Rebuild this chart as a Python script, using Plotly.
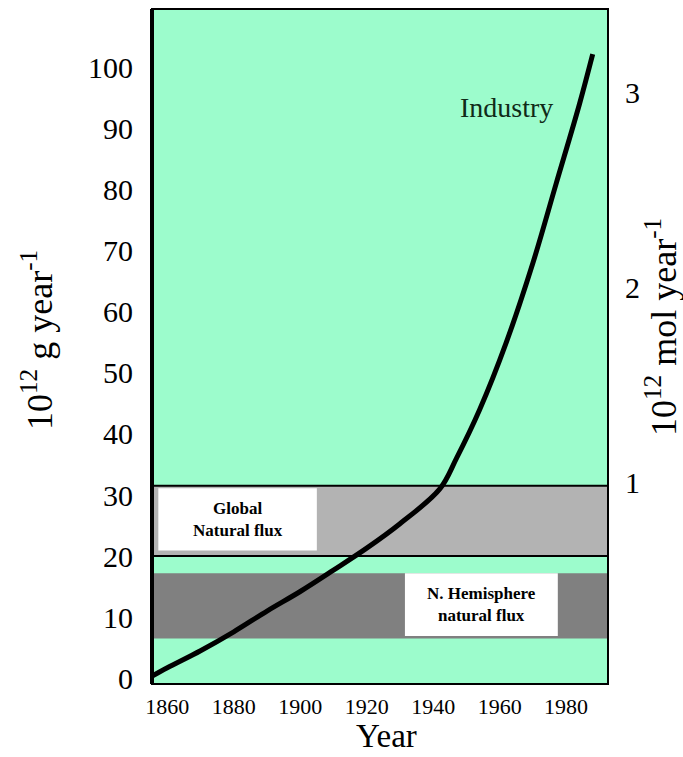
import plotly.graph_objects as go

# Industrial sulphur emissions (10^12 g per year) by year
years = [1855, 1860, 1870, 1880, 1890, 1900, 1910, 1920, 1930, 1942, 1947, 1954, 1962, 1970, 1977, 1984, 1988]
emissions = [0.2, 1.7, 4.5, 7.6, 11.0, 14.2, 17.7, 21.3, 25.3, 31.0, 36.0, 44.0, 55.0, 68.0, 81.0, 94.0, 102.2]

# Natural flux ranges (10^12 g per year)
global_flux = [20, 31.5]
nh_flux = [6.5, 17.2]

x_ticks = [1860, 1880, 1900, 1920, 1940, 1960, 1980]
y_ticks = [0, 10, 20, 30, 40, 50, 60, 70, 80, 90, 100]
mol_ticks = [1, 2, 3]
g_per_mol = 32

x_range = [1855.4, 1992.6]
y_range = [-0.95, 109.6]

SERIF = "Liberation Serif, Times New Roman, serif"
MINT = "#9cfccc"

fig = go.Figure()

fig.add_trace(go.Scatter(
    x=years, y=emissions, mode="lines",
    line=dict(color="black", width=5, shape="spline", smoothing=1.0),
    showlegend=False, hoverinfo="skip",
))
# invisible trace to activate the right-hand mol axis
fig.add_trace(go.Scatter(
    x=[years[0]], y=[emissions[0] / g_per_mol], yaxis="y2", mode="markers",
    marker=dict(opacity=0), showlegend=False, hoverinfo="skip",
))

shapes = [
    # N. Hemisphere natural flux band
    dict(type="rect", xref="x domain", yref="y", x0=0, x1=1, y0=nh_flux[0], y1=nh_flux[1],
         fillcolor="#808080", line=dict(width=0), layer="below"),
    # Global natural flux band
    dict(type="rect", xref="x domain", yref="y", x0=0, x1=1, y0=global_flux[0], y1=global_flux[1],
         fillcolor="#b3b3b3", line=dict(color="black", width=2), layer="below"),
    # label boxes
    dict(type="rect", xref="x", yref="y", x0=1857.3, x1=1905.0, y0=20.9, y1=31.1,
         fillcolor="white", line=dict(width=0), layer="below"),
    dict(type="rect", xref="x", yref="y", x0=1931.5, x1=1977.5, y0=6.9, y1=17.2,
         fillcolor="white", line=dict(width=0), layer="below"),
    # frame
    dict(type="rect", xref="paper", yref="paper", x0=0, x1=1, y0=0, y1=1,
         line=dict(color="black", width=2), layer="above"),
    dict(type="line", xref="paper", yref="paper", x0=0, x1=0, y0=0, y1=1,
         line=dict(color="black", width=4), layer="above"),
]

annotations = [
    dict(x=1881.2, y=26.0, xref="x", yref="y", text="<b>Global<br>Natural flux</b>",
         showarrow=False, font=dict(family=SERIF, size=17, color="black")),
    dict(x=1954.5, y=12.0, xref="x", yref="y", text="<b>N. Hemisphere<br>natural flux</b>",
         showarrow=False, font=dict(family=SERIF, size=17, color="black")),
    dict(x=1962.2, y=93.4, xref="x", yref="y", text="Industry",
         showarrow=False, font=dict(family=SERIF, size=28, color="#102a18")),
]

W, H = 683, 757
ML, MR, MT, MB = 152, 75, 9, 73
pw, ph = W - ML - MR, H - MT - MB

# outer labels placed by pixel position, converted to paper coordinates
outer_labels = [
    (386, 736, "Year", 0, 33),
    (37, 340, "10<sup>12</sup> g year<sup>-1</sup>", -90, 36),
    (661, 327, "10<sup>12</sup> mol year<sup>-1</sup>", -90, 36),
]
for px, py, text, ang, size in outer_labels:
    annotations.append(dict(
        x=(px - ML) / pw, y=(H - MB - py) / ph, xref="paper", yref="paper",
        xanchor="center", yanchor="middle", text=text, textangle=ang, showarrow=False,
        font=dict(family=SERIF, size=size, color="black"),
    ))

fig.update_layout(
    width=W, height=H,
    margin=dict(l=ML, r=MR, t=MT, b=MB, pad=0),
    paper_bgcolor="white", plot_bgcolor=MINT,
    shapes=shapes, annotations=annotations,
    xaxis=dict(range=x_range, tickvals=x_ticks, ticks="outside", ticklen=3,
               tickcolor="rgba(0,0,0,0)", showgrid=False, zeroline=False, showline=False,
               tickfont=dict(family=SERIF, size=22, color="black")),
    yaxis=dict(range=y_range, tickvals=y_ticks, ticks="outside", ticklen=12,
               tickcolor="rgba(0,0,0,0)", showgrid=False, zeroline=False, showline=False,
               tickfont=dict(family=SERIF, size=30, color="black")),
    yaxis2=dict(range=[v / g_per_mol for v in y_range], tickvals=mol_ticks, overlaying="y",
                side="right", ticks="outside", ticklen=10, tickcolor="rgba(0,0,0,0)",
                showgrid=False, zeroline=False, showline=False,
                tickfont=dict(family=SERIF, size=30, color="black")),
)

fig.write_html("out.html")
